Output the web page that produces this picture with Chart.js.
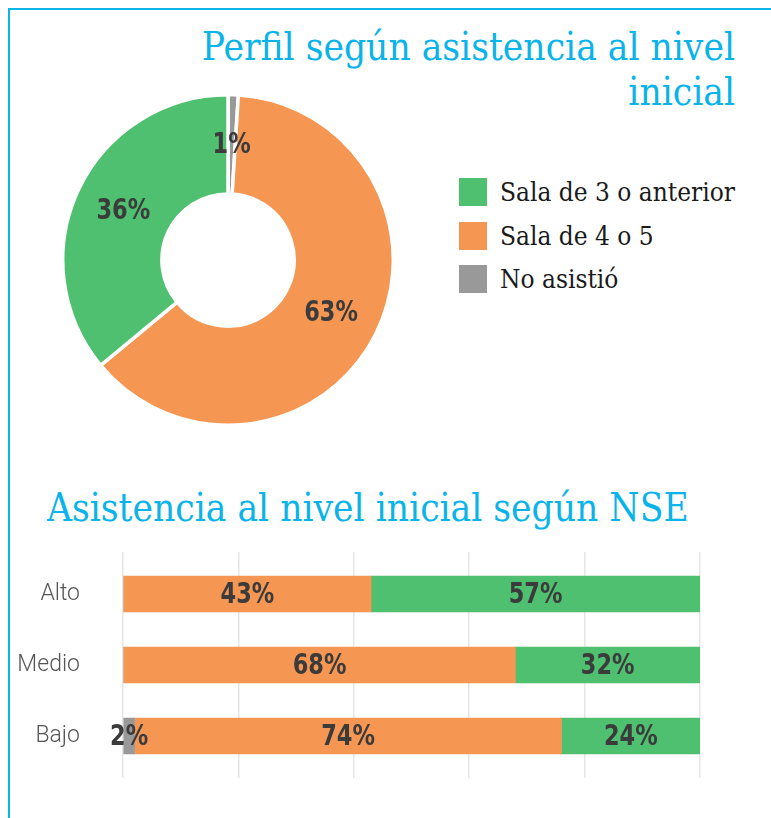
<!DOCTYPE html>
<html>
<head>
<meta charset="utf-8">
<script src="https://cdn.jsdelivr.net/npm/chart.js@4"></script>
<style>
  body { margin: 0; background: #fff; }
  #frame { position: relative; width: 771px; height: 818px; overflow: hidden; }
  #frame:before { content: ""; position: absolute; left: 8px; top: 8px; right: -10px; bottom: -10px;
    border-top: 2px solid #0ab4ea; border-left: 2px solid #0ab4ea; }
  .title { position: absolute; color: #0ab4ea; font-family: 'DejaVu Serif Condensed', 'DejaVu Serif', serif;
    font-weight: normal; white-space: nowrap; font-size: 38.5px; line-height: 45px; }
  #title1 { right: 36px; top: 24px; text-align: right; }
  #title2 { left: 47px; top: 485px; }
  #pie { position: absolute; left: 61px; top: 93px; }
  #bars { position: absolute; left: 0; top: 540px; }
  #legend { position: absolute; left: 459px; top: 178px; font-family: 'DejaVu Serif Condensed', 'DejaVu Serif', serif;
    font-size: 26px; color: #1a1a1a; }
  #legend div { height: 28px; margin-bottom: 15.5px; display: flex; align-items: center; }
  #legend span.box { width: 28px; height: 28px; margin-right: 13px; display: inline-block; }
</style>
</head>
<body>
<div id="frame">
  <div class="title" id="title1">Perfil según asistencia al nivel<br>inicial</div>
  <canvas id="pie" width="334" height="334"></canvas>
  <div id="legend"></div>
  <div class="title" id="title2">Asistencia al nivel inicial según NSE</div>
  <canvas id="bars" width="771" height="250"></canvas>
</div>
<script>
// categories and colours
const categories = ['Sala de 3 o anterior', 'Sala de 4 o 5', 'No asistió'];
const colors = ['#4fbf70', '#f69653', '#999999'];

// donut: share of students by attendance
const perfil = [36, 63, 1];

// bars: attendance by socioeconomic level
const nseLevels = ['Alto', 'Medio', 'Bajo'];
const noAsistio = [0, 0, 2];
const sala45 = [43, 68, 74];
const sala3 = [57, 32, 24];

const labelFont = "bold 29px 'DejaVu Sans Condensed', 'DejaVu Sans', sans-serif";
const labelColor = '#3b3b3b';

// percent labels in the middle of every slice / bar segment
const valueLabels = {
    id: 'valueLabels',
    afterDatasetsDraw(chart) {
        const ctx = chart.ctx;
        chart.data.datasets.forEach((ds, i) => {
            const meta = chart.getDatasetMeta(i);
            meta.data.forEach((el, j) => {
                const val = ds.data[j];
                if (!val) return;
                const p = el.getCenterPoint();
                ctx.save();
                ctx.font = labelFont;
                ctx.fillStyle = labelColor;
                ctx.textAlign = 'center';
                ctx.textBaseline = 'middle';
                ctx.translate(p.x, p.y + 1);
                ctx.scale(0.86, 1);
                ctx.fillText(val + '%', 0, 0);
                ctx.restore();
            });
        });
    }
};

// donut is drawn clockwise from the top: No asistió, Sala de 4 o 5, Sala de 3
const pieOrder = [2, 1, 0];

new Chart(document.getElementById('pie'), {
    type: 'doughnut',
    data: {
        labels: pieOrder.map(i => categories[i]),
        datasets: [{
            data: pieOrder.map(i => perfil[i]),
            backgroundColor: pieOrder.map(i => colors[i]),
            borderColor: '#ffffff',
            borderWidth: 3.5
        }]
    },
    options: {
        responsive: false,
        animation: false,
        cutout: '40%',
        layout: { padding: 0 },
        plugins: { legend: { display: false }, tooltip: { enabled: false } }
    },
    plugins: [valueLabels]
});

// html legend in the original order
const legend = document.getElementById('legend');
categories.forEach((c, i) => {
    const row = document.createElement('div');
    row.innerHTML = '<span class="box" style="background:' + colors[i] + '"></span>' + c;
    legend.appendChild(row);
});

const gridColor = '#e6e6e6';

new Chart(document.getElementById('bars'), {
    type: 'bar',
    data: {
        labels: nseLevels,
        datasets: [
            { label: categories[2], data: noAsistio, backgroundColor: colors[2], barThickness: 36 },
            { label: categories[1], data: sala45, backgroundColor: colors[1], barThickness: 36 },
            { label: categories[0], data: sala3, backgroundColor: colors[0], barThickness: 36 }
        ]
    },
    options: {
        indexAxis: 'y',
        responsive: false,
        animation: false,
        layout: { padding: { top: 12, bottom: 12, right: 71, left: 0 } },
        scales: {
            x: {
                stacked: true,
                min: 0,
                max: 100,
                ticks: { display: false, stepSize: 20 },
                grid: { color: gridColor, lineWidth: 1.5, drawTicks: true, tickLength: 6.5 },
                border: { display: false }
            },
            // top axis only to let the grid lines run a little above the bars
            x2: {
                type: 'linear',
                position: 'top',
                min: 0,
                max: 100,
                ticks: { display: false, stepSize: 20 },
                grid: { color: gridColor, lineWidth: 1.5, drawOnChartArea: false, drawTicks: true, tickLength: 6.5 },
                border: { display: false }
            },
            y: {
                stacked: true,
                afterFit: scale => { scale.width = 123; scale.paddingTop = 0; scale.paddingBottom = 0; },
                ticks: {
                    padding: 43,
                    color: '#555555',
                    font: { family: 'Roboto', weight: 300, size: 23 }
                },
                grid: { display: false, drawTicks: false },
                border: { display: false }
            }
        },
        plugins: { legend: { display: false }, tooltip: { enabled: false } }
    },
    plugins: [valueLabels]
});
</script>
</body>
</html>
